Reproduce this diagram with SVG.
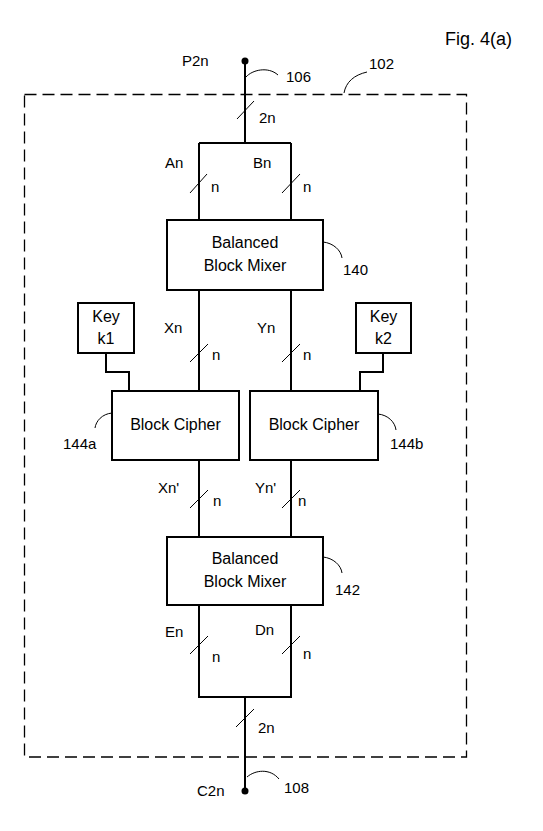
<svg xmlns="http://www.w3.org/2000/svg" width="543" height="831" viewBox="0 0 543 831">
<style>
text{font-family:"Liberation Sans",Arial,sans-serif;font-size:15px;fill:#000}
.c{text-anchor:middle;font-size:16px}
.box{fill:#fff;stroke:#000;stroke-width:2}
.w{fill:none;stroke:#000;stroke-width:2}
.s{fill:none;stroke:#000;stroke-width:1}
.d{fill:none;stroke:#000;stroke-width:1.3;stroke-dasharray:12 6}
</style>
<rect width="543" height="831" fill="#fff"/>
<text x="445" y="45" style="font-size:18px">Fig. 4(a)</text>
<g id="boundary102">
<rect class="d" x="24.5" y="94.5" width="442" height="662.5"/>
<path class="s" d="M344,93 C346,82 354,75 367,72"/>
<text x="369" y="69">102</text>
</g>
<g id="connectors">
<path class="w" d="M245,61 V143"/>
<circle cx="245" cy="61" r="3.5" fill="#000"/>
<path class="s" d="M237,119 L254,101"/>
<text x="259" y="123">2n</text>
<text x="182" y="66">P2n</text>
<path class="s" d="M246,77 C252,70 268,66 278,75"/>
<text x="286" y="82">106</text>
<path class="w" d="M199,143 H291 M199,143 V220 M291,143 V220"/>
<path class="s" d="M190,193 L207,174 M282,193 L300,174"/>
<text x="165" y="168">An</text>
<text x="211" y="192">n</text>
<text x="253" y="168">Bn</text>
<text x="303" y="192">n</text>
<path class="w" d="M199,290 V391 M291,290 V391"/>
<path class="s" d="M190,362 L208,344 M282,362 L300,344"/>
<text x="164" y="333">Xn</text>
<text x="212" y="360">n</text>
<text x="257" y="333">Yn</text>
<text x="303" y="360">n</text>
<path class="w" d="M106,353 V372 H129 V391 M383,353 V372 H360 V391"/>
<path class="w" d="M199,460 V537 M291,460 V537"/>
<path class="s" d="M190,508 L208,490 M282,508 L300,490"/>
<text x="158" y="493">Xn'</text>
<text x="213" y="506">n</text>
<text x="255" y="493">Yn'</text>
<text x="298" y="506">n</text>
<path class="w" d="M199,605 V697 H291 V605 M245,697 V791"/>
<path class="s" d="M190,654 L208,636 M282,654 L300,636"/>
<text x="165" y="637">En</text>
<text x="212" y="662">n</text>
<text x="255" y="635">Dn</text>
<text x="303" y="659">n</text>
<path class="s" d="M236,727 L254,709"/>
<text x="258" y="733">2n</text>
<circle cx="245" cy="791" r="3.5" fill="#000"/>
<text x="197" y="796">C2n</text>
<path class="s" d="M247,777 C255,770 270,768 279,779"/>
<text x="284" y="793">108</text>
</g>
<g id="mixer140">
<rect class="box" x="167" y="220" width="156" height="70"/>
<text class="c" x="245" y="248">Balanced</text>
<text class="c" x="245" y="271">Block Mixer</text>
<path class="s" d="M323,242 C333,243 341,250 342,258"/>
<text x="343" y="275">140</text>
</g>
<g id="key1">
<rect class="box" x="78" y="303" width="56" height="50"/>
<text class="c" x="106" y="322">Key</text>
<text class="c" x="106" y="344">k1</text>
</g>
<g id="key2">
<rect class="box" x="356" y="303" width="55" height="50"/>
<text class="c" x="383.5" y="322">Key</text>
<text class="c" x="383.5" y="344">k2</text>
</g>
<g id="cipher144a">
<rect class="box" x="112" y="391" width="127" height="69"/>
<text class="c" x="175.5" y="430">Block Cipher</text>
<path class="s" d="M112,413 C102,414 96,421 95,428"/>
<text x="63" y="449">144a</text>
</g>
<g id="cipher144b">
<rect class="box" x="250" y="391" width="128" height="69"/>
<text class="c" x="314" y="430">Block Cipher</text>
<path class="s" d="M378,414 C388,415 395,422 396,430"/>
<text x="390" y="449">144b</text>
</g>
<g id="mixer142">
<rect class="box" x="167" y="537" width="156" height="68"/>
<text class="c" x="245" y="564">Balanced</text>
<text class="c" x="245" y="587">Block Mixer</text>
<path class="s" d="M323,557 C333,558 341,565 342,573"/>
<text x="335" y="595">142</text>
</g>
</svg>
